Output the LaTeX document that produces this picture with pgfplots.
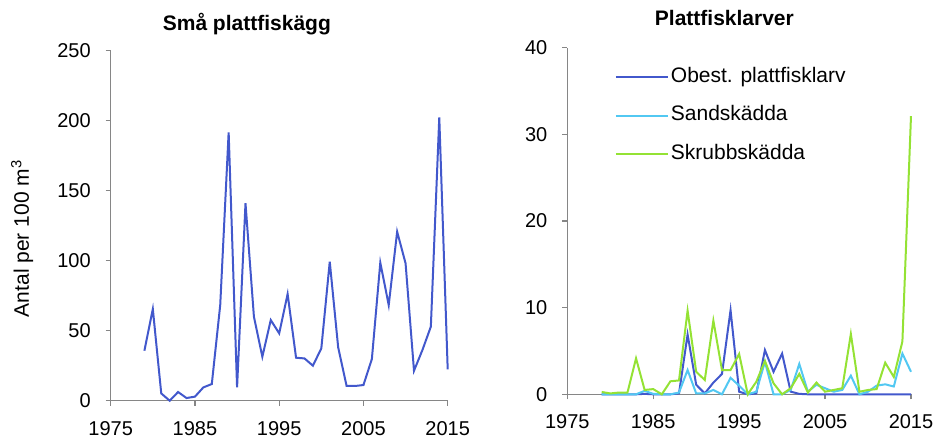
\documentclass[border=0pt]{standalone}
\usepackage{pgfplots}
\pgfplotsset{compat=1.18}
\usepackage{pgfplotstable}
\usepackage{fontspec}
\setmainfont{Liberation Sans}
\definecolor{dblue}{RGB}{66,88,204}
\definecolor{lblue}{RGB}{82,200,242}
\definecolor{lgreen}{RGB}{148,226,52}
\definecolor{axgray}{RGB}{134,134,134}

\pgfplotstableread{
year val
1979 35.7
1980 65.5
1981 5.2
1982 0
1983 6.2
1984 1.9
1985 2.9
1986 9.5
1987 11.9
1988 68.3
1989 191.7
1990 9.5
1991 141
1992 60
1993 31.4
1994 57.6
1995 48.1
1996 76.2
1997 30.7
1998 30.2
1999 25
2000 37.4
2001 99.3
2002 38.1
2003 10.5
2004 10.5
2005 11.2
2006 29.8
2007 98.6
2008 68.3
2009 120.7
2010 98.1
2011 21.4
2012 36.2
2013 52.9
2014 202.4
2015 22.4
}\eggs

\pgfplotstableread{
year obest sand skrubb
1979 0 0 0.27
1980 0 0 0.1
1981 0 0 0.2
1982 0 0 0.2
1983 0 0 4.15
1984 0.05 0.4 0.5
1985 0 0.05 0.6
1986 0 0 0
1987 0 0 1.5
1988 0.1 0.2 1.6
1989 6.9 2.8 9.65
1990 1.1 0.1 2.6
1991 0.1 0.1 1.65
1992 1.35 0.5 8.5
1993 2.35 0 2.8
1994 9.7 1.9 2.8
1995 0.3 1.0 4.65
1996 0 0 0
1997 0.1 0.3 1.45
1998 5.1 3.75 3.85
1999 2.6 0 1.27
2000 4.7 0 0
2001 0.3 0.5 0.7
2002 0.05 3.5 2.35
2003 0 0.3 0.2
2004 0 1.1 1.35
2005 0 0.7 0.3
2006 0 0.3 0.5
2007 0 0.5 0.7
2008 0 2.15 6.96
2009 0 0 0.3
2010 0 0.3 0.5
2011 0 1.0 0.6
2012 0 1.15 3.65
2013 0 0.9 2.0
2014 0 4.7 6.1
2015 0 2.6 32.1
}\larv

\pgfplotsset{
  mystyle/.style={
    scale only axis,
    axis x line=bottom, axis y line=left,
    axis line style={-, draw=axgray, line width=1.5pt},
    tick align=outside,
    major tick length=5pt,
    tick style={draw=axgray, line width=1.3pt},
    xtick pos=bottom, ytick pos=left,
    xmin=1975, xmax=2015,
    xtick={1975,1985,1995,2005,2015},
    /pgf/number format/assume math mode=true,
    /pgf/number format/1000 sep={},
    ticklabel style={font=\fontsize{20}{24}\selectfont, text=black},
    xticklabel style={yshift=-12pt},
    yticklabel style={xshift=-11.5pt},
    title style={font=\fontsize{21}{25}\selectfont\bfseries, anchor=center},
    clip=false,
  }
}

\begin{document}
\begin{tikzpicture}
\useasboundingbox (0,0) rectangle (938pt,439pt);

\begin{axis}[mystyle,
  at={(110.7pt,38.3pt)}, anchor=south west,
  width=337pt, height=350pt,
  ymin=0, ymax=250, ytick={0,50,100,150,200,250},
  title={Små plattfiskägg},
  title style={at={(axis description cs:0.404,1.059)}},
  ylabel={Antal per 100 m\textsuperscript{3}},
  ylabel style={at={(axis description cs:-0.263,0.463)}, anchor=center, font=\fontsize{21}{25}\selectfont},
]
\addplot[dblue, line width=2pt] table[x=year, y=val] {\eggs};
\end{axis}

\begin{axis}[mystyle,
  at={(567.3pt,44.7pt)}, anchor=south west,
  width=343.7pt, height=346.7pt,
  ymin=0, ymax=40, ytick={0,10,20,30,40},
  title={Plattfisklarver},
  title style={at={(axis description cs:0.457,1.067)}},
  legend style={at={(rel axis cs:0.138,0.950)}, anchor=north west, draw=none, fill=none,
    inner sep=0pt, font=\fontsize{21}{25}\selectfont, row sep=15.2pt, column sep=0pt,
    nodes={text height=15pt, text depth=4.5pt, inner sep=2pt}},
  legend cell align=left,
  legend image code/.code={\draw[#1, line width=2pt] (0pt,0pt) -- (52pt,0pt);},
]
\addplot[dblue, line width=2pt] table[x=year, y=obest] {\larv};
\addlegendentry{Obest. plattfisklarv}
\addplot[lblue, line width=2pt] table[x=year, y=sand] {\larv};
\addlegendentry{Sandskädda}
\addplot[lgreen, line width=2pt] table[x=year, y=skrubb] {\larv};
\addlegendentry{Skrubbskädda}
\end{axis}
\end{tikzpicture}
\end{document}
